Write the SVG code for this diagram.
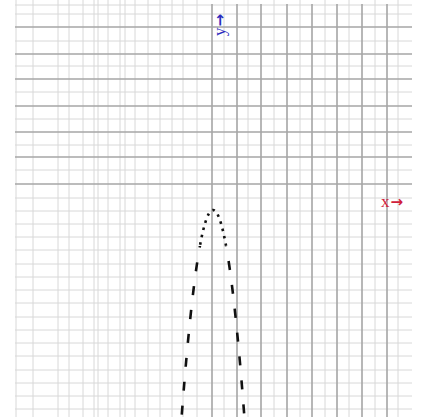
<svg xmlns="http://www.w3.org/2000/svg" width="432" height="417" viewBox="0 0 432 417">
<style>
.minor{stroke:#d8d8d8;stroke-width:1;fill:none}
.major{stroke:#a6a6a6;stroke-width:1.6;fill:none}
.curve{stroke:#111;stroke-width:2.6;fill:none}
.lbl{font-family:"Liberation Serif",serif;font-size:17px}
.arr{font-family:"DejaVu Sans",sans-serif;font-size:15px;font-weight:bold}
</style>
<defs>
<clipPath id="top"><rect x="0" y="0" width="432" height="246"/></clipPath>
<clipPath id="bot"><rect x="0" y="246" width="432" height="200"/></clipPath>
</defs>
<rect width="432" height="417" fill="#fff"/>
<g id="grid-minor" class="minor">
<path d="M16 0V417M33 0V417M58 0V417M69 0V417M83 0V417M94 0V417M98 0V417M108 0V417M120 0V417M125 0V417M135 0V417M148 0V417M160 0V417M172 0V417M183 0V417M197 0V417M224 0V417M248 0V417M274 0V417M300 0V417M325 0V417M349 0V417M375 0V417M398 0V417"/>
<path d="M15 5H412M15 14H412M15 41H412M15 66H412M15 92H412M15 119H412M15 145H412M15 170H412M15 198H412M15 211H412M15 224H412M15 237H412M15 250H412M15 264H412M15 277H412M15 290H412M15 303H412M15 317H412M15 330H412M15 343H412M15 356H412M15 370H412M15 383H412M15 396H412M15 409H412"/>
</g>
<g id="grid-major" class="major">
<path d="M15 27H412M15 54H412M15 79H412M15 106H412M15 132H412M15 157H412M15 184H412"/>
<path d="M212 4V417M237 4V417M261 4V417M287 4V417M312 4V417M337 4V417M362 4V417M387 4V417"/>
</g>
<g id="connectors">
<path class="curve" clip-path="url(#top)" stroke-dasharray="2.5,5" d="M180 438.7Q213 -18.7 246 438.7"/>
<path class="curve" clip-path="url(#bot)" stroke-dasharray="9,15" d="M180 438.7Q213 -18.7 246 438.7"/>
</g>
<g id="label-y"><text class="lbl" fill="#2b2bbd" transform="translate(225,36) rotate(-90)">y<tspan class="arr" dx="1">→</tspan></text></g>
<g id="label-x"><text class="lbl" fill="#d0203c" x="381" y="207">x<tspan class="arr" dx="1">→</tspan></text></g>
</svg>
